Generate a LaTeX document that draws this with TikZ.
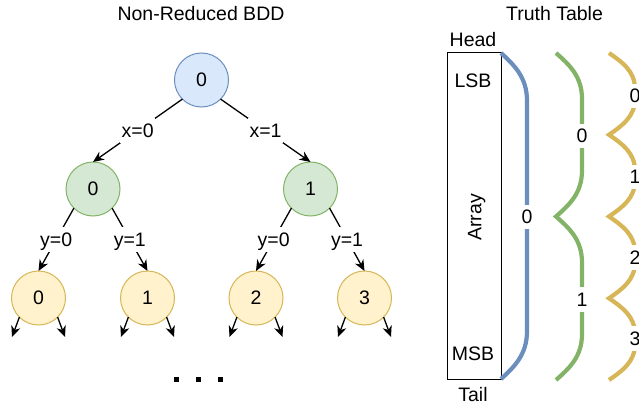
\documentclass[tikz,border=0pt]{standalone}
\usepackage{fontspec}
\setmainfont{Liberation Sans}
\usetikzlibrary{arrows.meta}

\definecolor{rootfill}{HTML}{DAE8FC}
\definecolor{rootline}{HTML}{6C8EBF}
\definecolor{midfill}{HTML}{D5E8D4}
\definecolor{midline}{HTML}{82B366}
\definecolor{leaffill}{HTML}{FFF2CC}
\definecolor{leafline}{HTML}{D6B656}

% A column of ")"-shaped arcs stacked on top of each other, meeting in cusps.
% #1 colour, #2 number of arcs, #3 left x, #4 right x, #5 top y, #6 bottom y, #7 bend height
\newcommand{\stackedarcs}[7]{%
  \pgfmathsetmacro{\arcpiece}{(#6-#5)/#2}%
  \pgfmathsetmacro{\arcmidx}{#3+0.5*(#4-#3)}%
  \draw[bracearc, draw=#1] (#3,#5)
    foreach \k in {1,...,#2} {
      .. controls (\arcmidx, {#5+(\k-1)*\arcpiece+0.25*#7}) and (#4, {#5+(\k-1)*\arcpiece+0.5*#7}) .. (#4, {#5+(\k-1)*\arcpiece+#7})
      -- (#4, {#5+\k*\arcpiece-#7})
      .. controls (#4, {#5+\k*\arcpiece-0.5*#7}) and (\arcmidx, {#5+\k*\arcpiece-0.25*#7}) .. (#3, {#5+\k*\arcpiece})
    };%
}

\begin{document}
\begin{tikzpicture}[x=1pt, y=-1pt,
  every node/.style={font=\fontsize{19.5}{22}\selectfont, text height=13.8pt, text depth=0pt,
                     inner sep=0pt, outer sep=0pt},
  bddnode/.style={circle, draw, line width=1pt, minimum size=54pt},
  rootnode/.style={bddnode, draw=rootline, fill=rootfill},
  midnode/.style={bddnode, draw=midline, fill=midfill},
  leafnode/.style={bddnode, draw=leafline, fill=leaffill},
  edge/.style={line width=1.3pt, -{Stealth[length=11pt, width=9.5pt, inset=3.5pt]}},
  elabel/.style={fill=white, inner xsep=1.5pt, inner ysep=6pt},
  arclabel/.style={fill=white, inner xsep=2pt, inner ysep=5.5pt},
  bracearc/.style={line width=4.2pt, line cap=butt, line join=miter},
  title/.style={anchor=base},
]
\useasboundingbox (0,0) rectangle (639,409);
\clip (0,0) rectangle (639,409);

% ---------------- decision diagram ----------------
\node[title] (bddtitle) at (201,20.7) {Non-Reduced BDD};

\node[rootnode] (r)  at (201.5,80)  {0};
\node[midnode]  (a)  at (93,189)    {0};
\node[midnode]  (b)  at (310.5,189) {1};
\node[leafnode] (l0) at (38.5,298)  {0};
\node[leafnode] (l1) at (147.5,298) {1};
\node[leafnode] (l2) at (256,298)   {2};
\node[leafnode] (l3) at (364.5,298) {3};

\draw[edge] (r.south west) -- node[elabel] (ex0) {x=0} (a.north);
\draw[edge] (r.south east) -- node[elabel] (ex1) {x=1} (b.north);
\draw[edge] (a.south west) -- node[elabel] (ey0a) {y=0} (l0.north);
\draw[edge] (a.south east) -- node[elabel] (ey1a) {y=1} (l1.north);
\draw[edge] (b.south west) -- node[elabel] (ey0b) {y=0} (l2.north);
\draw[edge] (b.south east) -- node[elabel] (ey1b) {y=1} (l3.north);

% open branches below the last level
\foreach \n in {l0,l1,l2,l3} {
  \path (\n) ++(-26.5,39) coordinate (\n-left);
  \path (\n) ++(26.5,39) coordinate (\n-right);
  \draw[edge] (\n.south west) -- (\n-left);
  \draw[edge] (\n.south east) -- (\n-right);
}

% continuation dots
\foreach \x in {176.7,198.3,220} {
  \fill (\x,379) +(-2.5,-2.5) rectangle +(2.5,2.5);
}

% ---------------- truth table ----------------
\node[title] (tttitle) at (554.5,20.7) {Truth Table};

\draw[line width=1pt] (447,53) rectangle (501,379);
\node[title] (head) at (473,46.7) {Head};
\node[title] (tail) at (473,401)  {Tail};
\node[title] (lsb)  at (473,87.3) {LSB};
\node[title] (msb)  at (473,360)  {MSB};
\node[rotate=90] (arr) at (474.5,217.5) {Array};

\stackedarcs{rootline}{1}{501}{527}{53}{379}{48}
\stackedarcs{midline}{2}{556}{582}{53}{380}{46}
\stackedarcs{leafline}{4}{609}{635}{53}{380}{36}

\node[arclabel] (bv0) at (527,217)   {0};
\node[arclabel] (gv0) at (582,136)   {0};
\node[arclabel] (gv1) at (582,299.5) {1};
\node[arclabel] (yv0) at (635,96)    {0};
\node[arclabel] (yv1) at (635,177)   {1};
\node[arclabel] (yv2) at (635,257.5) {2};
\node[arclabel] (yv3) at (635,338.5) {3};
\end{tikzpicture}
\end{document}
